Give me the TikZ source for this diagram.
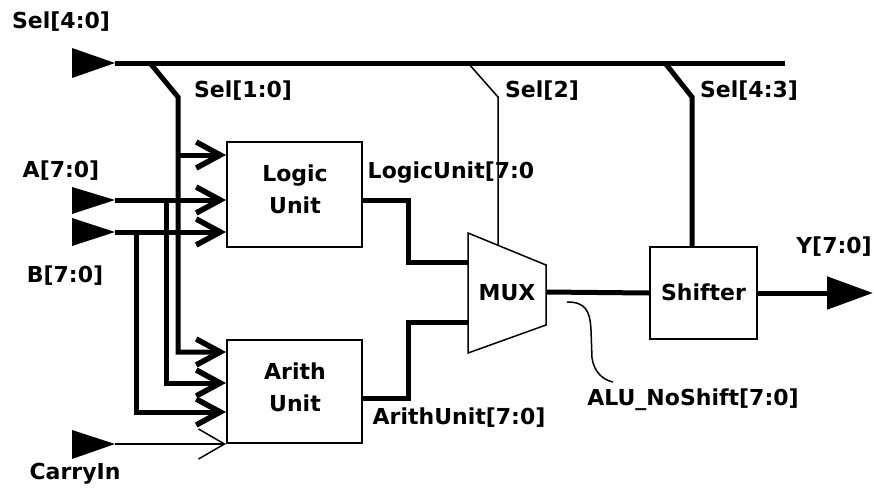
\documentclass[tikz,border=0pt]{standalone}
\usepackage{fontspec}
\setmainfont{DejaVu Sans}
\usetikzlibrary{arrows.meta}
\tikzset{
  wire/.style={line width=5pt},
  thinwire/.style={line width=1.5pt},
  block/.style={draw, line width=2pt, inner sep=0pt},
  lbl/.style={font=\bfseries\fontsize{22}{32}\selectfont, inner sep=0pt, align=center},
  barb/.tip={Straight Barb[length=24pt,width=26pt,line width=5.5pt]},
  port/.style={fill=black},
}
\begin{document}
\begin{tikzpicture}[x=1pt,y=-1pt]
\useasboundingbox (0,0) rectangle (874,490);

% blocks
\node[block, minimum width=135pt, minimum height=105pt] (logic) at (294.5,194.5) {};
\node[block, minimum width=135pt, minimum height=103pt] (arith) at (294.5,391.5) {};
\node[block, minimum width=107pt, minimum height=92pt] (shifter) at (703.5,293) {};
\node[lbl] (logictext) at (295,189) {Logic\\Unit};
\node[lbl] (arithtext) at (295,387) {Arith\\Unit};
\node[lbl] (shiftertext) at (703.5,292) {Shifter};

% MUX
\draw[line width=1.5pt] (468,233) -- (546,265) -- (546,325) -- (468,353) -- cycle;
\node[lbl] (mux) at (507,293) {MUX};
\coordinate (muxA) at (468,262);
\coordinate (muxB) at (468,322);
\coordinate (muxout) at (546,292);
\coordinate (muxtop) at (498,245.5);

% input ports
\fill[port] (72,48) -- (115,63) -- (72,78) -- cycle;
\coordinate (selin) at (115,63);
\fill[port] (72,187) -- (115,200) -- (72,214) -- cycle;
\coordinate (ain) at (115,200);
\fill[port] (72,218) -- (115,232) -- (72,246) -- cycle;
\coordinate (bin) at (115,232);
\fill[port] (72,430) -- (115,444) -- (72,459) -- cycle;
\coordinate (cin) at (115,444);

% select bus
\coordinate (busend) at (785,63);
\coordinate (tap10) at (150,63);
\coordinate (tap2) at (468,63);
\coordinate (tap43) at (665,63);
\draw[wire] (selin) -- (busend);

% Sel[1:0]
\draw[wire,-barb] (tap10) -- (178,97) -- (178,352) -- (arith.west |- 0,352);
\draw[wire,-barb] (178,155) -- (logic.west |- 0,155);
% A
\draw[wire,-barb] (ain) -- (logic.west |- ain);
\draw[wire,-barb] (166,200) -- (166,383) -- (arith.west |- 0,383);
% B
\draw[wire,-barb] (bin) -- (logic.west |- bin);
\draw[wire,-barb] (136,232) -- (136,412) -- (arith.west |- 0,412);
% CarryIn
\draw[thinwire,-{Straight Barb[length=26pt,width=30pt]}] (cin) -- (arith.south west);

% unit outputs
\draw[wire] (logic.east |- 0,200) -| (408,262) -- (muxA);
\draw[wire] (arith.east |- 0,398) -| (408,322) -- (muxB);
\draw[wire] (muxout) -- (shifter.west);
\coordinate (yout) at (873,293);
\draw[wire,-{Triangle[length=46pt,width=32pt]}] (shifter.east) -- (yout);

% Sel[2], Sel[4:3]
\draw[thinwire] (tap2) -- (498,97) -- (muxtop);
\draw[wire] (tap43) -- (692,97) -- (692,0 |- shifter.north);

% ALU_NoShift pointer
\coordinate (nsa) at (567,302);
\coordinate (nsb) at (613,382);
\draw[thinwire] (nsa) .. controls (585,302) and (590,310) .. (591,330) -- (592,358) .. controls (594,372) and (603,380) .. (nsb);

% labels
\node[lbl] (lsel40) at (61,22) {Sel[4:0]};
\node[lbl] (lsel10) at (243,91) {Sel[1:0]};
\node[lbl] (lsel2) at (542,91) {Sel[2]};
\node[lbl] (lsel43) at (749,91) {Sel[4:3]};
\node[lbl] (la) at (61,171) {A[7:0]};
\node[lbl] (lb) at (65,276) {B[7:0]};
\node[lbl] (lc) at (75,474) {CarryIn};
\node[lbl] (llu) at (451,173) {LogicUnit[7:0};
\node[lbl] (lau) at (459,418) {ArithUnit[7:0]};
\node[lbl] (lns) at (693,400) {ALU\_NoShift[7:0]};
\node[lbl] (ly) at (834,247) {Y[7:0]};
\end{tikzpicture}
\end{document}
